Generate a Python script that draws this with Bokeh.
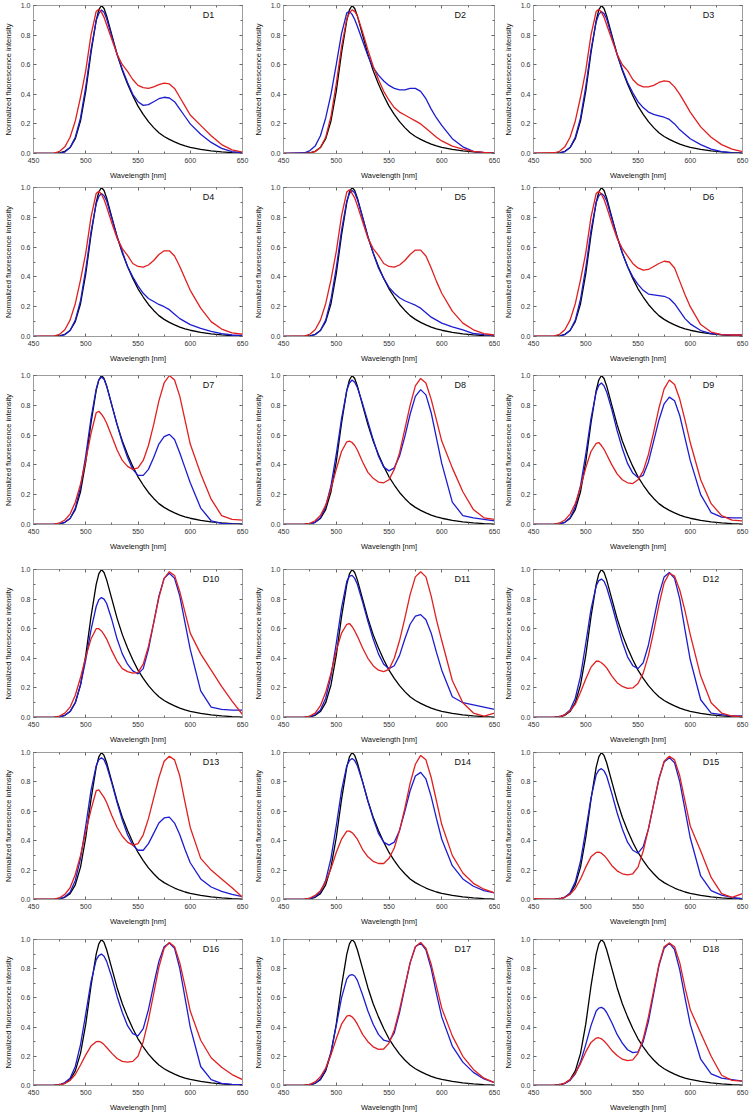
from bokeh.plotting import figure
from bokeh.models import LinearAxis, Range1d, FixedTicker, PrintfTickFormatter, Label
from bokeh.layouts import gridplot
from bokeh.embed import file_html
from bokeh.resources import INLINE

WL = [450, 470, 475, 480, 485, 490, 495, 500, 505, 510, 512.5, 515, 517.5, 520, 525, 530, 535, 540, 545,
      550, 555, 560, 565, 570, 575, 580, 585, 590, 595, 600, 610, 620, 630, 640, 650]

BLACK = [0, 0.002, 0.005, 0.015, 0.04, 0.10, 0.22, 0.42, 0.68, 0.90, 0.97, 1.00, 0.98, 0.93, 0.80, 0.67, 0.56, 0.47, 0.39,
         0.32, 0.265, 0.215, 0.175, 0.14, 0.115, 0.095, 0.078, 0.063, 0.051, 0.042, 0.028, 0.018, 0.011, 0.006, 0.003]

blue_d1 = [0, 0, 0.003, 0.01, 0.04, 0.11, 0.24, 0.45, 0.70, 0.90, 0.945, 0.97, 0.955, 0.91, 0.79, 0.67, 0.57, 0.48, 0.40,
           0.35, 0.325, 0.33, 0.35, 0.37, 0.38, 0.375, 0.35, 0.30, 0.25, 0.20, 0.13, 0.075, 0.035, 0.012, 0.005]
red_d1 = [0, 0.003, 0.015, 0.045, 0.11, 0.22, 0.38, 0.56, 0.80, 0.96, 0.975, 0.955, 0.92, 0.87, 0.77, 0.67, 0.60, 0.555, 0.50,
          0.46, 0.445, 0.44, 0.45, 0.465, 0.475, 0.47, 0.44, 0.38, 0.32, 0.26, 0.19, 0.12, 0.06, 0.025, 0.01]

blue_d2 = [0, 0.005, 0.02, 0.05, 0.12, 0.24, 0.40, 0.60, 0.81, 0.95, 0.96, 0.94, 0.905, 0.86, 0.76, 0.66, 0.58, 0.53, 0.49,
           0.46, 0.44, 0.43, 0.43, 0.44, 0.44, 0.42, 0.37, 0.30, 0.24, 0.19, 0.10, 0.045, 0.015, 0.005, 0.002]
red_d2 = [0, 0.001, 0.004, 0.012, 0.04, 0.11, 0.25, 0.47, 0.72, 0.91, 0.95, 0.97, 0.96, 0.93, 0.82, 0.70, 0.59, 0.50, 0.42,
          0.36, 0.31, 0.28, 0.26, 0.24, 0.22, 0.20, 0.17, 0.14, 0.11, 0.085, 0.05, 0.03, 0.015, 0.007, 0.003]

blue_d3 = [0, 0, 0.003, 0.012, 0.04, 0.11, 0.24, 0.45, 0.70, 0.89, 0.94, 0.96, 0.945, 0.91, 0.79, 0.67, 0.57, 0.48, 0.41,
           0.35, 0.31, 0.28, 0.265, 0.255, 0.245, 0.23, 0.20, 0.16, 0.13, 0.10, 0.06, 0.03, 0.012, 0.004, 0.002]
red_d3 = [0.003, 0.005, 0.015, 0.045, 0.11, 0.22, 0.38, 0.56, 0.80, 0.96, 0.975, 0.955, 0.92, 0.87, 0.77, 0.67, 0.60, 0.56, 0.50,
          0.465, 0.45, 0.45, 0.46, 0.48, 0.49, 0.485, 0.45, 0.40, 0.34, 0.28, 0.18, 0.11, 0.06, 0.03, 0.012]

blue_d4 = [0, 0, 0.003, 0.012, 0.04, 0.11, 0.24, 0.45, 0.70, 0.89, 0.94, 0.96, 0.945, 0.91, 0.79, 0.67, 0.57, 0.47, 0.40,
           0.34, 0.29, 0.255, 0.235, 0.215, 0.20, 0.18, 0.15, 0.12, 0.10, 0.08, 0.055, 0.035, 0.02, 0.01, 0.005]
red_d4 = [0, 0.004, 0.015, 0.045, 0.11, 0.22, 0.38, 0.56, 0.80, 0.96, 0.975, 0.955, 0.92, 0.87, 0.76, 0.66, 0.59, 0.545, 0.49,
          0.47, 0.465, 0.48, 0.51, 0.55, 0.575, 0.575, 0.54, 0.47, 0.39, 0.31, 0.19, 0.10, 0.05, 0.025, 0.015]

blue_d5 = [0, 0, 0.003, 0.012, 0.04, 0.11, 0.25, 0.46, 0.71, 0.91, 0.96, 0.98, 0.965, 0.92, 0.80, 0.67, 0.56, 0.46, 0.39,
           0.33, 0.29, 0.26, 0.24, 0.225, 0.21, 0.19, 0.16, 0.13, 0.11, 0.09, 0.065, 0.045, 0.02, 0.012, 0.008]
red_d5 = [0, 0.004, 0.015, 0.045, 0.11, 0.22, 0.38, 0.57, 0.81, 0.97, 0.985, 0.96, 0.93, 0.88, 0.77, 0.66, 0.59, 0.545, 0.49,
          0.47, 0.465, 0.48, 0.51, 0.55, 0.58, 0.58, 0.54, 0.46, 0.37, 0.29, 0.17, 0.09, 0.045, 0.02, 0.01]

blue_d6 = [0, 0, 0.003, 0.012, 0.04, 0.11, 0.25, 0.46, 0.71, 0.90, 0.945, 0.96, 0.945, 0.91, 0.79, 0.67, 0.56, 0.47, 0.40,
           0.35, 0.31, 0.285, 0.28, 0.275, 0.27, 0.255, 0.22, 0.17, 0.12, 0.085, 0.04, 0.02, 0.012, 0.01, 0.01]
red_d6 = [0.003, 0.004, 0.015, 0.045, 0.11, 0.22, 0.38, 0.56, 0.80, 0.96, 0.975, 0.955, 0.92, 0.87, 0.76, 0.66, 0.59, 0.54, 0.49,
          0.46, 0.445, 0.45, 0.47, 0.49, 0.505, 0.50, 0.46, 0.37, 0.28, 0.20, 0.08, 0.03, 0.012, 0.01, 0.01]

blue_d7 = [0, 0.001, 0.004, 0.015, 0.04, 0.11, 0.25, 0.46, 0.71, 0.91, 0.97, 0.99, 0.975, 0.93, 0.80, 0.67, 0.55, 0.45, 0.37,
           0.33, 0.33, 0.37, 0.45, 0.54, 0.59, 0.605, 0.57, 0.48, 0.38, 0.28, 0.11, 0.025, 0.008, 0.004, 0.002]
red_d7 = [0, 0.003, 0.01, 0.03, 0.07, 0.15, 0.27, 0.43, 0.61, 0.75, 0.76, 0.74, 0.715, 0.68, 0.59, 0.50, 0.43, 0.39, 0.37,
          0.38, 0.43, 0.53, 0.67, 0.83, 0.95, 1.00, 0.97, 0.86, 0.70, 0.54, 0.34, 0.17, 0.06, 0.035, 0.03]

blue_d8 = [0, 0.001, 0.005, 0.015, 0.045, 0.12, 0.26, 0.47, 0.71, 0.90, 0.95, 0.97, 0.955, 0.92, 0.81, 0.69, 0.57, 0.46, 0.385,
           0.36, 0.38, 0.46, 0.59, 0.74, 0.86, 0.905, 0.87, 0.75, 0.58, 0.41, 0.15, 0.06, 0.045, 0.035, 0.025]
red_d8 = [0, 0.002, 0.008, 0.025, 0.06, 0.13, 0.24, 0.37, 0.49, 0.555, 0.56, 0.55, 0.53, 0.50, 0.42, 0.35, 0.31, 0.285, 0.28,
          0.30, 0.37, 0.48, 0.64, 0.80, 0.93, 0.98, 0.95, 0.84, 0.70, 0.56, 0.38, 0.22, 0.10, 0.045, 0.035]

blue_d9 = [0, 0.001, 0.004, 0.015, 0.045, 0.12, 0.26, 0.47, 0.71, 0.89, 0.935, 0.95, 0.93, 0.89, 0.77, 0.63, 0.51, 0.41, 0.345,
           0.315, 0.33, 0.42, 0.56, 0.70, 0.81, 0.855, 0.83, 0.73, 0.58, 0.43, 0.20, 0.08, 0.05, 0.045, 0.045]
red_d9 = [0, 0.003, 0.01, 0.03, 0.07, 0.14, 0.25, 0.38, 0.49, 0.545, 0.55, 0.53, 0.505, 0.47, 0.40, 0.34, 0.30, 0.28, 0.275,
          0.30, 0.36, 0.47, 0.62, 0.78, 0.91, 0.97, 0.94, 0.84, 0.70, 0.55, 0.30, 0.14, 0.06, 0.03, 0.025]

blue_d10 = [0, 0.001, 0.004, 0.015, 0.04, 0.10, 0.22, 0.39, 0.59, 0.75, 0.795, 0.81, 0.80, 0.77, 0.66, 0.53, 0.43, 0.36, 0.315,
            0.295, 0.33, 0.46, 0.64, 0.82, 0.94, 0.975, 0.94, 0.82, 0.64, 0.46, 0.18, 0.07, 0.055, 0.05, 0.05]
red_d10 = [0, 0.003, 0.01, 0.03, 0.07, 0.15, 0.27, 0.41, 0.53, 0.60, 0.60, 0.585, 0.56, 0.53, 0.45, 0.38, 0.33, 0.31, 0.30,
           0.305, 0.36, 0.48, 0.64, 0.81, 0.94, 0.985, 0.96, 0.85, 0.71, 0.57, 0.43, 0.32, 0.21, 0.11, 0.02]

blue_d11 = [0, 0.001, 0.005, 0.02, 0.05, 0.13, 0.28, 0.50, 0.74, 0.92, 0.955, 0.96, 0.94, 0.90, 0.78, 0.65, 0.53, 0.43, 0.36,
            0.33, 0.35, 0.42, 0.53, 0.63, 0.685, 0.695, 0.66, 0.57, 0.44, 0.32, 0.14, 0.10, 0.085, 0.07, 0.055]
red_d11 = [0, 0.003, 0.01, 0.03, 0.08, 0.17, 0.30, 0.45, 0.57, 0.63, 0.635, 0.615, 0.585, 0.55, 0.47, 0.40, 0.35, 0.32, 0.31,
           0.325, 0.40, 0.52, 0.67, 0.83, 0.95, 0.985, 0.95, 0.82, 0.66, 0.52, 0.25, 0.10, 0.03, 0.01, 0.03]

blue_d12 = [0, 0.001, 0.005, 0.02, 0.05, 0.13, 0.28, 0.50, 0.73, 0.89, 0.925, 0.935, 0.92, 0.88, 0.76, 0.63, 0.51, 0.41, 0.35,
            0.33, 0.37, 0.49, 0.66, 0.83, 0.95, 0.98, 0.94, 0.80, 0.59, 0.39, 0.12, 0.03, 0.02, 0.01, 0.01]
red_d12 = [0, 0.002, 0.006, 0.018, 0.045, 0.09, 0.17, 0.26, 0.34, 0.38, 0.38, 0.37, 0.355, 0.335, 0.28, 0.235, 0.21, 0.197, 0.20,
           0.23, 0.30, 0.42, 0.58, 0.76, 0.91, 0.975, 0.955, 0.86, 0.72, 0.56, 0.28, 0.10, 0.03, 0.01, 0.005]

blue_d13 = [0, 0.001, 0.005, 0.018, 0.05, 0.13, 0.28, 0.50, 0.74, 0.91, 0.95, 0.965, 0.95, 0.91, 0.79, 0.66, 0.54, 0.44, 0.37,
            0.335, 0.335, 0.38, 0.45, 0.52, 0.555, 0.56, 0.52, 0.44, 0.34, 0.25, 0.14, 0.085, 0.055, 0.035, 0.02]
red_d13 = [0.003, 0.003, 0.012, 0.035, 0.08, 0.17, 0.30, 0.46, 0.61, 0.74, 0.745, 0.72, 0.695, 0.66, 0.57, 0.49, 0.43, 0.39, 0.37,
           0.38, 0.44, 0.55, 0.69, 0.83, 0.94, 0.975, 0.95, 0.84, 0.66, 0.49, 0.28, 0.20, 0.14, 0.08, 0.015]

blue_d14 = [0, 0.001, 0.005, 0.02, 0.05, 0.13, 0.28, 0.50, 0.74, 0.91, 0.945, 0.96, 0.945, 0.91, 0.80, 0.67, 0.55, 0.45, 0.39,
            0.37, 0.39, 0.47, 0.60, 0.74, 0.84, 0.865, 0.82, 0.70, 0.55, 0.41, 0.23, 0.14, 0.09, 0.06, 0.045]
red_d14 = [0, 0.003, 0.01, 0.028, 0.06, 0.12, 0.21, 0.32, 0.41, 0.465, 0.465, 0.455, 0.435, 0.41, 0.34, 0.29, 0.26, 0.245, 0.245,
           0.28, 0.35, 0.47, 0.62, 0.79, 0.92, 0.98, 0.95, 0.83, 0.67, 0.51, 0.30, 0.18, 0.11, 0.07, 0.045]

blue_d15 = [0, 0.001, 0.004, 0.016, 0.045, 0.12, 0.26, 0.47, 0.69, 0.85, 0.88, 0.89, 0.875, 0.84, 0.72, 0.59, 0.48, 0.39, 0.335,
            0.315, 0.36, 0.48, 0.65, 0.82, 0.935, 0.965, 0.93, 0.80, 0.61, 0.42, 0.16, 0.06, 0.03, 0.015, 0.005]
red_d15 = [0.005, 0.002, 0.005, 0.015, 0.035, 0.075, 0.14, 0.22, 0.29, 0.32, 0.322, 0.315, 0.30, 0.28, 0.23, 0.195, 0.175, 0.167, 0.175,
           0.22, 0.33, 0.48, 0.65, 0.82, 0.94, 0.975, 0.95, 0.84, 0.67, 0.50, 0.33, 0.15, 0.04, 0.015, 0.04]

blue_d16 = [0, 0.001, 0.005, 0.02, 0.05, 0.13, 0.28, 0.49, 0.71, 0.86, 0.89, 0.90, 0.885, 0.85, 0.74, 0.61, 0.50, 0.41, 0.355,
            0.34, 0.39, 0.52, 0.69, 0.85, 0.95, 0.975, 0.94, 0.80, 0.60, 0.40, 0.13, 0.04, 0.015, 0.008, 0.005]
red_d16 = [0, 0.002, 0.005, 0.014, 0.035, 0.075, 0.14, 0.21, 0.27, 0.30, 0.302, 0.295, 0.28, 0.26, 0.22, 0.185, 0.165, 0.16, 0.165,
           0.20, 0.30, 0.45, 0.63, 0.81, 0.94, 0.98, 0.95, 0.84, 0.68, 0.51, 0.31, 0.19, 0.125, 0.075, 0.04]

blue_d17 = [0, 0.001, 0.004, 0.016, 0.045, 0.11, 0.23, 0.41, 0.60, 0.73, 0.755, 0.76, 0.75, 0.72, 0.62, 0.51, 0.42, 0.35, 0.31,
            0.30, 0.36, 0.50, 0.67, 0.84, 0.95, 0.975, 0.93, 0.80, 0.63, 0.47, 0.27, 0.16, 0.09, 0.045, 0.02]
red_d17 = [0, 0.002, 0.008, 0.025, 0.06, 0.12, 0.21, 0.32, 0.42, 0.475, 0.48, 0.47, 0.45, 0.42, 0.35, 0.30, 0.265, 0.248, 0.25,
           0.29, 0.38, 0.52, 0.68, 0.84, 0.95, 0.98, 0.94, 0.83, 0.68, 0.53, 0.34, 0.20, 0.11, 0.05, 0.02]

blue_d18 = [0, 0.001, 0.004, 0.014, 0.035, 0.08, 0.16, 0.28, 0.41, 0.51, 0.53, 0.535, 0.525, 0.50, 0.43, 0.35, 0.29, 0.245, 0.225,
            0.23, 0.30, 0.44, 0.63, 0.82, 0.94, 0.975, 0.93, 0.79, 0.60, 0.42, 0.18, 0.08, 0.05, 0.04, 0.03]
red_d18 = [0, 0.002, 0.006, 0.016, 0.04, 0.085, 0.15, 0.23, 0.295, 0.325, 0.327, 0.32, 0.305, 0.285, 0.24, 0.205, 0.18, 0.17, 0.175,
           0.22, 0.32, 0.47, 0.65, 0.83, 0.95, 0.975, 0.95, 0.84, 0.67, 0.52, 0.36, 0.20, 0.07, 0.035, 0.03]

NAMES = ["D%d" % i for i in range(1, 19)]
BLUES = [blue_d1, blue_d2, blue_d3, blue_d4, blue_d5, blue_d6, blue_d7, blue_d8, blue_d9,
         blue_d10, blue_d11, blue_d12, blue_d13, blue_d14, blue_d15, blue_d16, blue_d17, blue_d18]
REDS = [red_d1, red_d2, red_d3, red_d4, red_d5, red_d6, red_d7, red_d8, red_d9,
        red_d10, red_d11, red_d12, red_d13, red_d14, red_d15, red_d16, red_d17, red_d18]

X_TICKS = [450, 500, 550, 600, 650]
X_MINOR = [475, 525, 575, 625]
Y_TICKS = [0.0, 0.2, 0.4, 0.6, 0.8, 1.0]
Y_MINOR = [0.1, 0.3, 0.5, 0.7, 0.9]

for arr in [BLACK] + BLUES + REDS:
    assert len(arr) == len(WL), len(arr)

COL_W = [250, 250, 250]
COL_LEFT = [29, 32, 29]
COL_RIGHT = [8, 6, 8]
ROW_TOP = [5, 5, 10, 16, 6, 11]
ROW_FRAME = [149, 150, 150, 149, 148, 149]
ROW_BOTTOM = [28, 28, 28, 28, 28, 26]

FONT = "Liberation Sans"
FRAME_C = "#9c9c9c"
C_BLACK = "#000000"
C_BLUE = "#1c1cd0"
C_RED = "#e01f1f"


def style_axis(ax, ticks, minor, show_labels, label_standoff=5, tick_standoff=4):
    ax.ticker = FixedTicker(ticks=ticks, minor_ticks=minor)
    ax.axis_line_color = FRAME_C
    ax.major_tick_line_color = "#666666"
    ax.minor_tick_line_color = "#666666"
    ax.major_tick_in = 3
    ax.major_tick_out = 0
    ax.minor_tick_in = 2
    ax.minor_tick_out = 0
    if show_labels:
        ax.major_label_text_font = FONT
        ax.major_label_text_font_size = "7px"
        ax.major_label_text_color = "#333333"
        ax.major_label_standoff = tick_standoff
        ax.axis_label_text_font = FONT
        ax.axis_label_text_font_size = "7.5px"
        ax.axis_label_text_font_style = "normal"
        ax.axis_label_text_color = "#111111"
        ax.axis_label_standoff = label_standoff
    else:
        ax.major_label_text_font_size = "1px"
        ax.major_label_text_alpha = 0
        ax.major_label_standoff = 0


rows = []
for r in range(6):
    row_figs = []
    for c in range(3):
        i = r * 3 + c
        h = ROW_TOP[r] + ROW_FRAME[r] + ROW_BOTTOM[r]
        p = figure(width=COL_W[c], height=h, output_backend="svg", toolbar_location=None,
                   x_range=Range1d(450, 650), y_range=Range1d(0, 1.0),
                   min_border_left=COL_LEFT[c], min_border_right=COL_RIGHT[c],
                   min_border_top=ROW_TOP[r], min_border_bottom=ROW_BOTTOM[r])
        p.grid.visible = False
        p.outline_line_color = FRAME_C
        p.background_fill_color = "white"
        p.border_fill_color = "white"
        p.xaxis.axis_label = "Wavelength [nm]"
        p.yaxis.axis_label = "Normalized fluorescence intensity"
        style_axis(p.xaxis[0], X_TICKS, X_MINOR, True, label_standoff=5, tick_standoff=4)
        style_axis(p.yaxis[0], Y_TICKS, Y_MINOR, True, label_standoff=5, tick_standoff=3)
        p.yaxis[0].formatter = PrintfTickFormatter(format="%.1f")
        top_ax = LinearAxis()
        right_ax = LinearAxis()
        style_axis(top_ax, X_TICKS, X_MINOR, False)
        style_axis(right_ax, Y_TICKS, Y_MINOR, False)
        p.add_layout(top_ax, "above")
        p.add_layout(right_ax, "right")

        p.line(WL, BLACK, line_color=C_BLACK, line_width=1.3)
        p.line(WL, BLUES[i], line_color=C_BLUE, line_width=1.3)
        p.line(WL, REDS[i], line_color=C_RED, line_width=1.3)

        p.add_layout(Label(x=612, y=0.935, text=NAMES[i], text_font=FONT,
                           text_font_size="9px", text_baseline="middle",
                           text_color="#111111"))
        row_figs.append(p)
    rows.append(row_figs)

grid = gridplot(rows, toolbar_location=None)
open("out.html", "w").write(file_html(grid, INLINE))
